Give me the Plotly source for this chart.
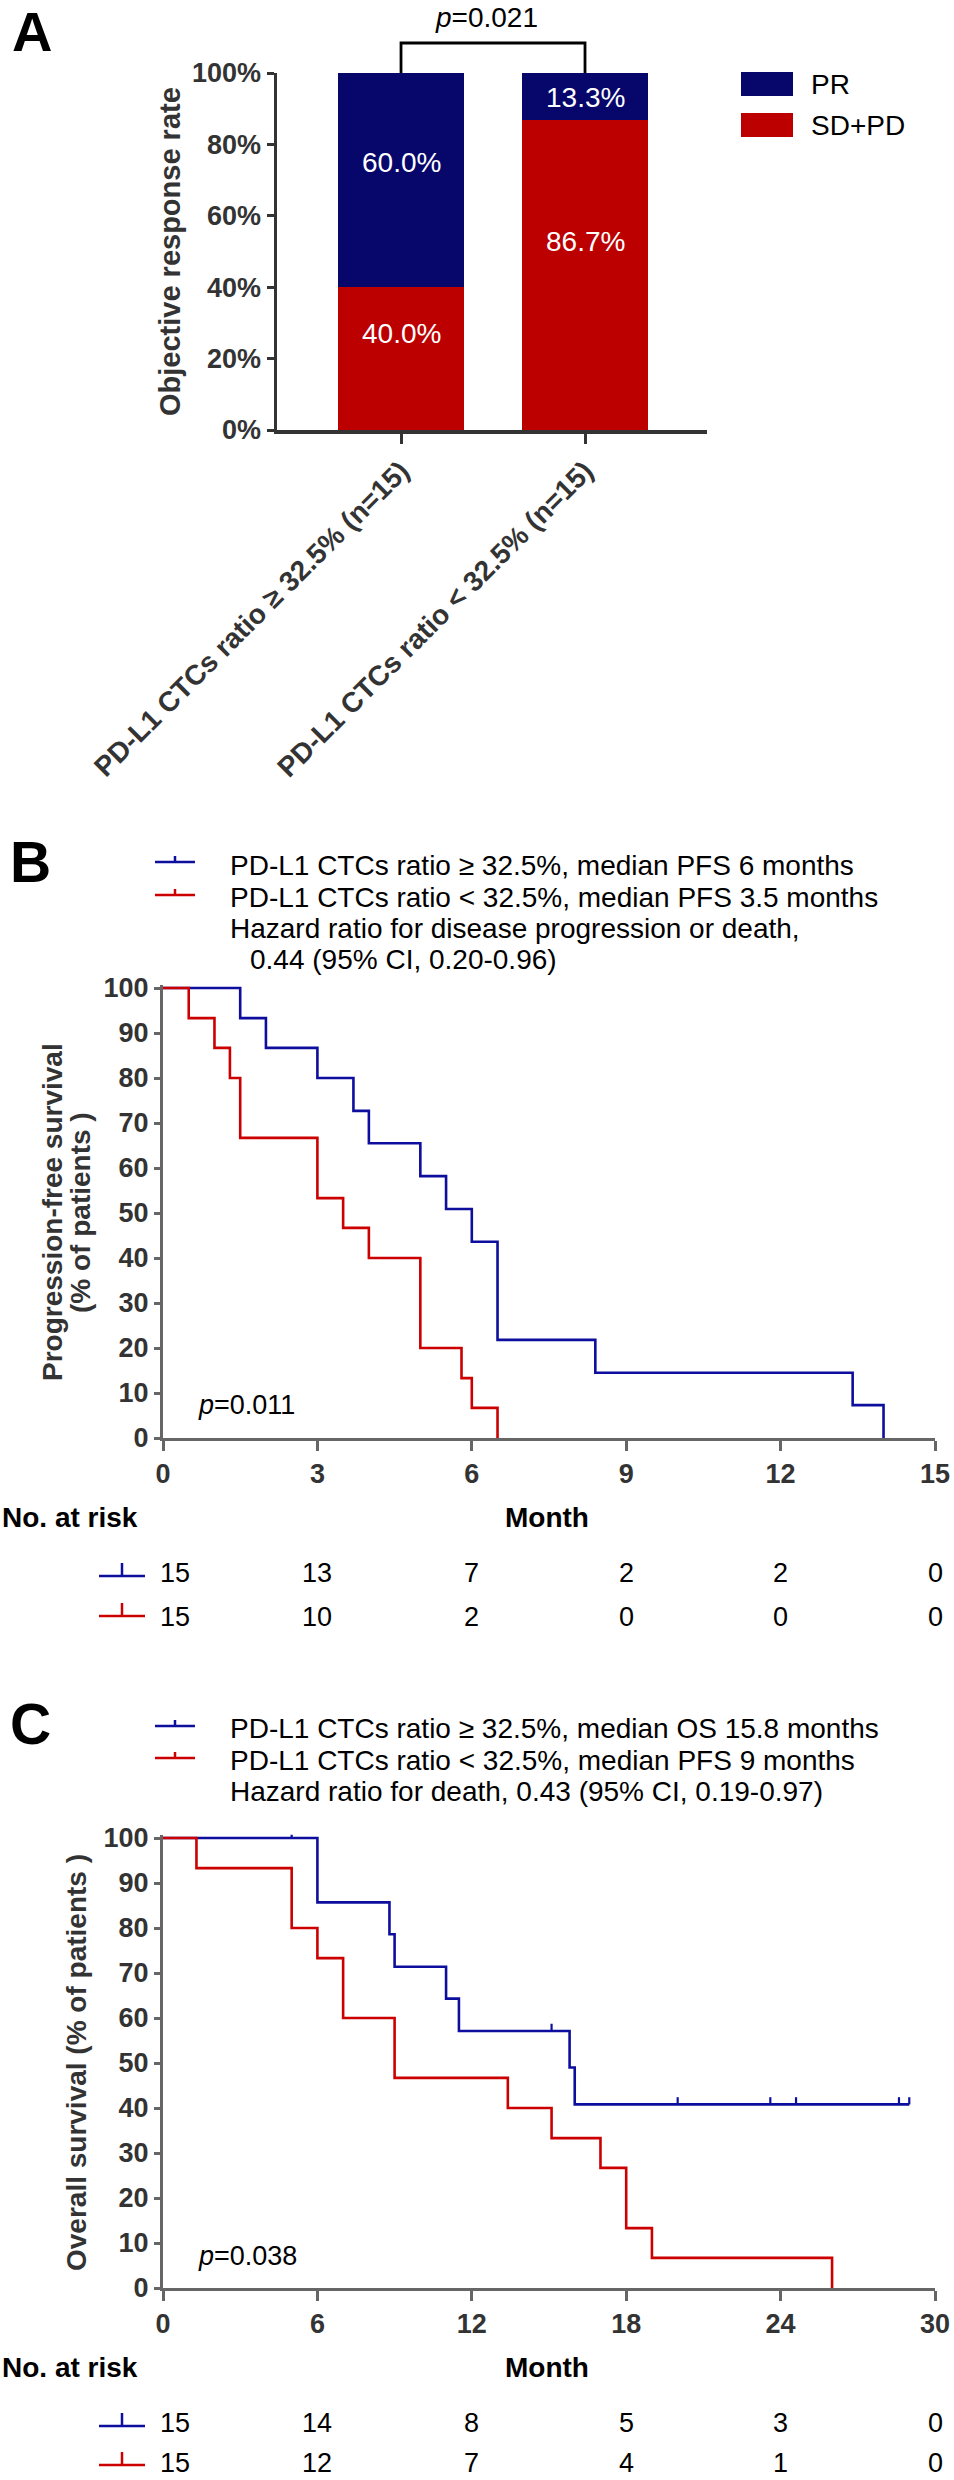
import plotly.graph_objects as go

W, H = 954, 2480
FONT = "Liberation Sans, Arial, sans-serif"
NAVY = "#06066B"
RED_A = "#BC0000"
BLUE = "#0E0E9E"
RED = "#CC0000"
DARK = "#333333"
GRAY = "#666666"

# ---------------- Panel A data ----------------
groups = ["PD-L1 CTCs ratio ≥ 32.5% (n=15)", "PD-L1 CTCs ratio < 32.5% (n=15)"]
sdpd = [40.0, 86.7]
pr = [60.0, 13.3]
sdpd_text = ["40.0%", "86.7%"]
pr_text = ["60.0%", "13.3%"]
a_ticks = [0, 20, 40, 60, 80, 100]
a_ticktext = ["0%", "20%", "40%", "60%", "80%", "100%"]
a_p = "<i>p</i>=0.021"

# ---------------- Panel B data (PFS) ----------------
b_hi_t = [0, 1.5, 2.0, 3.0, 3.7, 4.0, 5.0, 5.5, 6.0, 6.5, 8.4, 13.4, 14.0]
b_hi_s = [100, 93.3, 86.7, 80.0, 72.7, 65.5, 58.2, 50.9, 43.6, 21.8, 14.5, 7.3, 0]
b_lo_t = [0, 0.5, 1.0, 1.3, 1.5, 3.0, 3.5, 4.0, 5.0, 5.8, 6.0, 6.5]
b_lo_s = [100, 93.3, 86.7, 80.0, 66.7, 53.3, 46.7, 40.0, 20.0, 13.3, 6.7, 0]
b_ticks = [0, 3, 6, 9, 12, 15]
b_risk_hi = [15, 13, 7, 2, 2, 0]
b_risk_lo = [15, 10, 2, 0, 0, 0]
b_legend = ["PD-L1 CTCs ratio ≥ 32.5%, median PFS 6 months",
            "PD-L1 CTCs ratio < 32.5%, median PFS 3.5 months",
            "Hazard ratio for disease progression or death,",
            "0.44 (95% CI, 0.20-0.96)"]
b_p = "<i>p</i>=0.011"

# ---------------- Panel C data (OS) ----------------
c_hi_t = [0, 6.0, 8.8, 9.0, 11.0, 11.5, 15.8, 16.0, 29.0]
c_hi_s = [100, 85.7, 78.6, 71.4, 64.3, 57.1, 49.0, 40.8, 40.8]
c_hi_cens_t = [5.0, 15.1, 20.0, 23.6, 24.6, 28.6, 29.0]
c_hi_cens_s = [100, 57.1, 40.8, 40.8, 40.8, 40.8, 40.8]
c_lo_t = [0, 1.3, 5.0, 6.0, 7.0, 9.0, 13.4, 15.1, 17.0, 18.0, 19.0, 26.0]
c_lo_s = [100, 93.3, 80.0, 73.3, 60.0, 46.7, 40.0, 33.3, 26.7, 13.3, 6.7, 0]
c_ticks = [0, 6, 12, 18, 24, 30]
c_risk_hi = [15, 14, 8, 5, 3, 0]
c_risk_lo = [15, 12, 7, 4, 1, 0]
c_legend = ["PD-L1 CTCs ratio ≥ 32.5%, median OS 15.8 months",
            "PD-L1 CTCs ratio < 32.5%, median PFS 9 months",
            "Hazard ratio for death, 0.43 (95% CI, 0.19-0.97)"]
c_p = "<i>p</i>=0.038"
km_yticks = [0, 10, 20, 30, 40, 50, 60, 70, 80, 90, 100]


def fx(px):
    return px / W


def fy(py):
    return 1 - py / H


fig = go.Figure()

# ---- Panel A bars ----
fig.add_trace(go.Bar(x=groups, y=sdpd, marker=dict(color=RED_A, line=dict(width=0)),
                     width=0.68, xaxis="x", yaxis="y", showlegend=False))
fig.add_trace(go.Bar(x=groups, y=pr, marker=dict(color=NAVY, line=dict(width=0)),
                     width=0.68, xaxis="x", yaxis="y", showlegend=False))

# ---- Panel B curves ----
fig.add_trace(go.Scatter(x=b_hi_t, y=b_hi_s, mode="lines", line=dict(color=BLUE, width=2.6, shape="hv"),
                         xaxis="x2", yaxis="y2", showlegend=False))
fig.add_trace(go.Scatter(x=b_lo_t, y=b_lo_s, mode="lines", line=dict(color=RED, width=2.6, shape="hv"),
                         xaxis="x2", yaxis="y2", showlegend=False))

# ---- Panel C curves ----
fig.add_trace(go.Scatter(x=c_hi_t, y=c_hi_s, mode="lines", line=dict(color=BLUE, width=2.6, shape="hv"),
                         xaxis="x3", yaxis="y3", showlegend=False))
fig.add_trace(go.Scatter(x=c_lo_t, y=c_lo_s, mode="lines", line=dict(color=RED, width=2.6, shape="hv"),
                         xaxis="x3", yaxis="y3", showlegend=False))
fig.add_trace(go.Scatter(x=c_hi_cens_t, y=c_hi_cens_s, mode="markers", cliponaxis=False,
                         marker=dict(size=1, color=BLUE, opacity=0),
                         error_y=dict(type="data", symmetric=False, array=[1.6] * len(c_hi_cens_t),
                                      arrayminus=[0] * len(c_hi_cens_t), width=0, thickness=2.2, color=BLUE),
                         xaxis="x3", yaxis="y3", showlegend=False))

# ---- Axes ----
A_X0, A_X1, A_Y100, A_Y0 = 277, 707, 73, 430
KM_X0, KM_X1 = 163, 935
B_Y100, B_Y0 = 988, 1438
C_Y100, C_Y0 = 1838, 2288
YTOP = 100.7


def km_ydomain(y100, y0):
    top = y0 - (y0 - y100) * YTOP / 100
    return [fy(y0), fy(top)]


bold_tick = dict(family=FONT, size=27, color=DARK, weight="bold")
common = dict(automargin=False, showgrid=False, zeroline=False, showline=True, ticks="outside")

fig.update_layout(
    template="none",
    xaxis=dict(domain=[fx(A_X0), fx(A_X1)], range=[-0.674, 1.663], anchor="y",
               linewidth=3.5, linecolor=DARK, ticklen=10, tickwidth=3,
               tickcolor=DARK, tickangle=-45, tickfont=dict(family=FONT, size=28, color=DARK, weight="bold"),
               **common),
    yaxis=dict(domain=[fy(A_Y0), fy(A_Y100)], range=[0, 100], anchor="x",
               linewidth=3.5, linecolor=DARK, ticklen=7, tickwidth=3,
               tickcolor=DARK, tickvals=a_ticks, ticktext=a_ticktext, tickfont=bold_tick, **common),
    xaxis2=dict(domain=[fx(KM_X0), fx(KM_X1)], range=[0, 15], anchor="y2",
                linewidth=3, linecolor=GRAY, ticklen=10, tickwidth=3,
                tickcolor=GRAY, tickvals=b_ticks, tickfont=bold_tick, **common),
    yaxis2=dict(domain=km_ydomain(B_Y100, B_Y0), range=[0, YTOP], anchor="x2",
                linewidth=3, linecolor=GRAY, ticklen=6, tickwidth=3,
                tickcolor=GRAY, tickvals=km_yticks, tickfont=bold_tick, **common),
    xaxis3=dict(domain=[fx(KM_X0), fx(KM_X1)], range=[0, 30], anchor="y3",
                linewidth=3, linecolor=GRAY, ticklen=10, tickwidth=3,
                tickcolor=GRAY, tickvals=c_ticks, tickfont=bold_tick, **common),
    yaxis3=dict(domain=km_ydomain(C_Y100, C_Y0), range=[0, YTOP], anchor="x3",
                linewidth=3, linecolor=GRAY, ticklen=6, tickwidth=3,
                tickcolor=GRAY, tickvals=km_yticks, tickfont=bold_tick, **common),
    barmode="stack",
    width=W, height=H,
    margin=dict(l=0, r=0, t=0, b=0, autoexpand=False),
    paper_bgcolor="white", plot_bgcolor="white",
    font=dict(family=FONT, color="black"),
    showlegend=False,
)

ann = []
shapes = []


def text(x, y, s, size=28, bold=False, color="black", xanchor="center", angle=0, xref="paper",
         xshift=0, yanchor="middle"):
    ann.append(dict(x=x, y=y, xref=xref, yref="paper", text=s, showarrow=False,
                    xanchor=xanchor, yanchor=yanchor, textangle=angle, xshift=xshift,
                    font=dict(family=FONT, size=size, color=color, weight="bold" if bold else "normal")))


def cat_px(i):
    return A_X0 + (i - (-0.674)) / (1.663 - (-0.674)) * (A_X1 - A_X0)


# Panel letters
text(fx(32), fy(-2), "A", size=56, bold=True, yanchor="top")
text(fx(30), fy(862), "B", size=57, bold=True)
text(fx(30), fy(1724), "C", size=57, bold=True)

# ---- Panel A annotations ----
text(fx(170), fy(252), "Objective response rate", size=29, bold=True, color=DARK, angle=-90)
label_pos_sd = [26.9, 52.9]
label_pos_pr = [74.8, 93.0]
for i, g in enumerate(groups):
    ann.append(dict(x=g, y=label_pos_sd[i], xref="x", yref="y", text=sdpd_text[i], showarrow=False,
                    font=dict(family=FONT, size=28, color="white")))
    ann.append(dict(x=g, y=label_pos_pr[i], xref="x", yref="y", text=pr_text[i], showarrow=False,
                    font=dict(family=FONT, size=28, color="white")))
text(fx(487), fy(18), a_p, size=28)
bx0, bx1 = cat_px(0), cat_px(1)
shapes.append(dict(type="path", xref="paper", yref="paper",
                   path=f"M {fx(bx0)} {fy(A_Y100)} L {fx(bx0)} {fy(43)} L {fx(bx1)} {fy(43)} L {fx(bx1)} {fy(A_Y100)}",
                   line=dict(color="black", width=2.8)))
# legend A
for (yy, col, lab) in [(84, NAVY, "PR"), (125, RED_A, "SD+PD")]:
    shapes.append(dict(type="rect", xref="paper", yref="paper", x0=fx(741), x1=fx(793),
                       y0=fy(yy - 12), y1=fy(yy + 12), fillcolor=col, line=dict(width=0)))
    text(fx(809), fy(yy), lab, size=28, xanchor="left")


def km_symbol(xc, yc, col, half=20, tick=6):
    shapes.append(dict(type="line", xref="paper", yref="paper", x0=fx(xc - half), x1=fx(xc + half),
                       y0=fy(yc), y1=fy(yc), line=dict(color=col, width=2.5)))
    shapes.append(dict(type="line", xref="paper", yref="paper", x0=fx(xc), x1=fx(xc),
                       y0=fy(yc), y1=fy(yc - tick), line=dict(color=col, width=2.5)))


# ---- Panel B annotations ----
km_symbol(175, 862, BLUE)
km_symbol(175, 895, RED)
text(fx(228), fy(865), b_legend[0], xanchor="left")
text(fx(228), fy(897), b_legend[1], xanchor="left")
text(fx(228), fy(928), b_legend[2], xanchor="left")
text(fx(248), fy(959), b_legend[3], xanchor="left")
text(fx(52), fy(1212), "Progression-free survival", size=28, bold=True, color=DARK, angle=-90)
text(fx(80), fy(1213), "(% of patients )", size=28, bold=True, color=DARK, angle=-90)
text(fx(196), fy(1405), b_p, xanchor="left", size=27)
text(fx(547), fy(1517), "Month", size=28, bold=True)
text(fx(0), fy(1517), "No. at risk", size=28, bold=True, xanchor="left")
km_symbol(122, 1576, BLUE, half=23, tick=13)
km_symbol(122, 1616, RED, half=23, tick=13)
for i, t in enumerate(b_ticks):
    sh = 12 if i == 0 else 0
    text(t, fy(1573), str(b_risk_hi[i]), size=27, xref="x2", xshift=sh)
    text(t, fy(1617), str(b_risk_lo[i]), size=27, xref="x2", xshift=sh)

# ---- Panel C annotations ----
km_symbol(175, 1726, BLUE)
km_symbol(175, 1758, RED)
text(fx(228), fy(1728), c_legend[0], xanchor="left")
text(fx(228), fy(1760), c_legend[1], xanchor="left")
text(fx(228), fy(1791), c_legend[2], xanchor="left")
text(fx(76), fy(2063), "Overall survival (% of patients )", size=28, bold=True, color=DARK, angle=-90)
text(fx(196), fy(2256), c_p, xanchor="left", size=27)
text(fx(547), fy(2367), "Month", size=28, bold=True)
text(fx(0), fy(2367), "No. at risk", size=28, bold=True, xanchor="left")
km_symbol(122, 2426, BLUE, half=23, tick=13)
km_symbol(122, 2465, RED, half=23, tick=13)
for i, t in enumerate(c_ticks):
    sh = 12 if i == 0 else 0
    text(t, fy(2423), str(c_risk_hi[i]), size=27, xref="x3", xshift=sh)
    text(t, fy(2463), str(c_risk_lo[i]), size=27, xref="x3", xshift=sh)

fig.update_layout(annotations=ann, shapes=shapes)
fig.write_html("out.html",
               config={"displayModeBar": False, "staticPlot": True},
               post_script="document.body.style.margin='0';document.body.style.padding='0';"
                           "document.body.style.overflow='hidden';"
                           "document.documentElement.style.overflow='hidden';")
